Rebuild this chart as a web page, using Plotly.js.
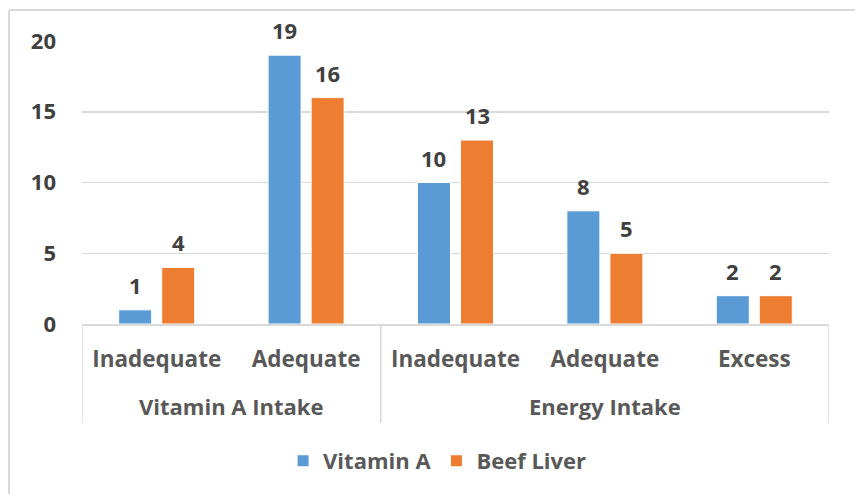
<!DOCTYPE html>
<html>
<head>
<meta charset="utf-8">
<script src="https://cdn.plot.ly/plotly-3.0.1.min.js"></script>
<style>html,body{margin:0;padding:0;background:#fff;}#chart{width:855px;height:494px;}</style>
</head>
<body>
<div id="chart"></div>
<script>
const groups = ["Vitamin A Intake", "Vitamin A Intake", "Energy Intake", "Energy Intake", "Energy Intake"];
const categories = ["Inadequate", "Adequate", "Inadequate", "Adequate", "Excess"];
const seriesNames = ["Vitamin A", "Beef Liver"];
const vitaminA = [1, 19, 10, 8, 2];
const beefLiver = [4, 16, 13, 5, 2];
const yTicks = [0, 5, 10, 15, 20];

const FONT = "Open Sans, Noto Sans, sans-serif";
const idx = categories.map((_, i) => i);
const colors = ["#5B9BD5", "#ED7D31"];
const seriesVals = [vitaminA, beefLiver];

const traces = seriesVals.map((vals, s) => ({
  type: "bar",
  name: seriesNames[s],
  x: idx,
  y: vals,
  marker: {color: colors[s], line: {color: "#ffffff", width: 1}},
  hoverinfo: "skip"
}));

// data labels
const slot = 0.288; // fraction of category per bar slot
const annotations = [];
seriesVals.forEach((vals, s) => {
  vals.forEach((v, i) => {
    annotations.push({
      x: i + (s === 0 ? -slot / 2 : slot / 2), y: v, xref: "x", yref: "y",
      text: String(v), showarrow: false, yanchor: "middle", yshift: 25,
      font: {family: FONT, size: 22, color: "#404040", weight: 700}
    });
  });
});

// outer group labels and dividers
const groupNames = [...new Set(groups)];
const shapes = [];
const lineCol = "#D9D9D9";
groupNames.forEach(g => {
  const members = idx.filter(i => groups[i] === g);
  const first = Math.min(...members), last = Math.max(...members);
  annotations.push({
    x: (first + last) / 2, y: -0.29, xref: "x", yref: "paper",
    text: g, showarrow: false, yanchor: "middle",
    font: {family: FONT, size: 22, color: "#595959", weight: 700}
  });
  shapes.push({type: "line", xref: "x", yref: "paper", x0: first - 0.5, x1: first - 0.5, y0: 0, y1: -0.35,
    line: {color: lineCol, width: 1.5}});
  if (last === idx.length - 1) {
    shapes.push({type: "line", xref: "x", yref: "paper", x0: last + 0.5, x1: last + 0.5, y0: 0, y1: -0.35,
      line: {color: lineCol, width: 1.5}});
  }
});
// chart area border (top and left visible)
shapes.push({type: "line", xref: "paper", yref: "paper", x0: -0.0977, x1: 1.2, y0: 1.1095, y1: 1.1095, line: {color: lineCol, width: 2}});
shapes.push({type: "line", xref: "paper", yref: "paper", x0: -0.0977, x1: -0.0977, y0: 1.1095, y1: -1, line: {color: lineCol, width: 2}});

const layout = {
  width: 855, height: 494,
  margin: {l: 82, r: 26, t: 41, b: 170},
  paper_bgcolor: "#ffffff", plot_bgcolor: "#ffffff",
  barmode: "group", bargap: 0.424, bargroupgap: 0.233,
  showlegend: true,
  legend: {orientation: "h", x: 0.476, xanchor: "center", y: -0.484, yanchor: "middle",
    font: {family: FONT, size: 22, color: "#595959", weight: 700}, itemclick: false},
  xaxis: {
    range: [-0.5, idx.length - 0.5], tickvals: idx, ticktext: categories,
    showgrid: false, zeroline: false, showline: true, linecolor: lineCol, linewidth: 1.5,
    ticks: "", ticklabelstandoff: 14,
    tickfont: {family: FONT, size: 22.5, color: "#595959", weight: 700}
  },
  yaxis: {
    range: [0, 20], tickvals: yTicks, showgrid: true, gridcolor: lineCol, gridwidth: 1.5,
    zeroline: false, showline: false, ticks: "", ticklabelstandoff: 25,
    tickfont: {family: FONT, size: 22, color: "#404040", weight: 700}
  },
  annotations: annotations,
  shapes: shapes
};

Plotly.newPlot("chart", traces, layout, {staticPlot: true, displayModeBar: false});
</script>
</body>
</html>
